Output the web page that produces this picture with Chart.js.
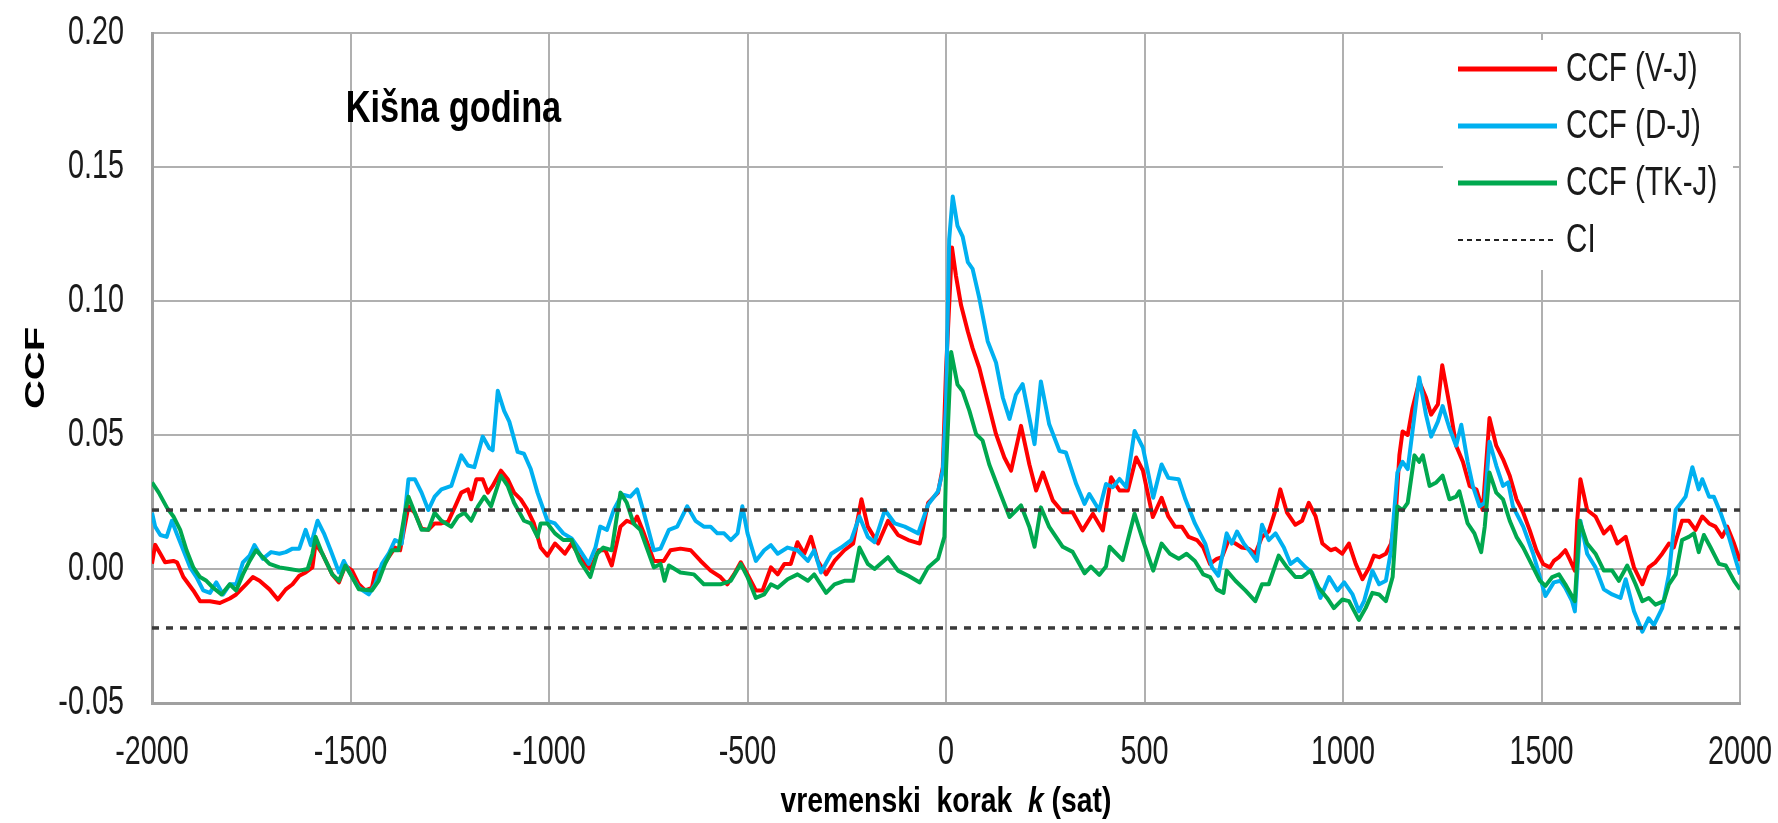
<!DOCTYPE html>
<html lang="hr">
<head>
    <meta charset="UTF-8">
    <title>CCF - Kišna godina</title>
    <script src="https://cdn.jsdelivr.net/npm/chart.js"></script>
    <style>
        html, body { margin: 0; padding: 0; background: #fff; }
        #wrap { width: 1778px; height: 823px; }
    </style>
</head>
<body>
<div id="wrap"><canvas id="ccfChart" width="1778" height="823"></canvas></div>

<script>
    // lag (sat), CCF value
    const ccfVJ = [
        [-2000,0.002],[-1992,0.009],[-1979,0.0057],[-1967,0.0025],[-1946,0.003],[-1937,0.0025],[-1921,-0.003],[-1896,-0.008],[-1879,-0.012],[-1854,-0.012],[-1829,-0.0127],[-1804,-0.011],[-1788,-0.0095],[-1763,-0.0057],[-1746,-0.003],[-1729,-0.0044],[-1704,-0.0076],[-1683,-0.0114],[-1663,-0.0076],[-1646,-0.0057],[-1629,-0.0025],[-1613,-0.0013],[-1596,0.0006],[-1588,0.0095],[-1571,0.0057],[-1546,-0.002],[-1529,-0.005],[-1513,0.0013],[-1496,-0.0006],[-1479,-0.0057],[-1463,-0.008],[-1446,-0.007],[-1438,-0.0013],[-1421,0.0006],[-1404,0.0044],[-1388,0.008],[-1375,0.007],[-1354,0.0234],[-1338,0.021],[-1321,0.015],[-1304,0.0146],[-1288,0.017],[-1271,0.017],[-1254,0.0177],[-1238,0.0228],[-1221,0.0285],[-1204,0.0297],[-1196,0.026],[-1183,0.0335],[-1167,0.0335],[-1154,0.0285],[-1142,0.031],[-1121,0.0367],[-1104,0.0335],[-1088,0.0285],[-1071,0.026],[-1054,0.022],[-1038,0.017],[-1021,0.008],[-1004,0.005],
        [-985,0.0095],[-972,0.0076],[-960,0.0057],[-943,0.0095],[-922,0.0044],[-896,0],[-875,0.007],[-858,0.007],[-842,0.0013],[-820,0.0158],[-804,0.018],[-787,0.017],[-778,0.0196],[-761,0.0133],[-736,0.003],[-711,0.003],[-694,0.007],[-669,0.0076],[-643,0.007],[-618,0.003],[-593,-0.0006],[-568,-0.003],[-551,-0.0057],[-534,-0.002],[-517,0.0025],[-500,-0.002],[-479,-0.008],[-462,-0.008],[-441,0.0006],[-424,-0.002],[-407,0.0019],[-391,0.0019],[-374,0.01],[-357,0.0057],[-340,0.012],[-323,0.003],[-302,-0.002],[-281,0.003],[-256,0.007],[-234,0.0095],[-213,0.026],[-197,0.0158],[-171,0.0095],[-146,0.018],[-121,0.0127],[-95,0.0108],[-66,0.0095],[-45,0.0247],[-20,0.0285],[-8,0.038],[0,0.074],[15,0.12],
        [25,0.1095],[38,0.0984],[55,0.0886],[67,0.0824],[84,0.075],[105,0.0626],[126,0.0503],[147,0.0416],[164,0.0367],[189,0.0534],[210,0.039],[227,0.0293],[244,0.036],[269,0.0256],[294,0.0212],[319,0.0212],[344,0.0144],[370,0.0206],[395,0.0144],[416,0.0342],[437,0.0293],[458,0.0293],[479,0.0416],[496,0.0367],[521,0.0194],[543,0.0266],[560,0.0196],[577,0.0158],[594,0.0158],[611,0.012],
        [632,0.0108],[648,0.008],[665,0.0019],[682,0.0038],[695,0.0044],[712,0.0108],[729,0.0095],[745,0.008],[762,0.0076],[779,0.0057],[796,0.012],[813,0.014],[830,0.022],[842,0.0297],[859,0.021],[880,0.0165],[897,0.018],[914,0.0247],[931,0.0196],[948,0.0095],[969,0.007],[981,0.0076],[998,0.0057],[1015,0.0095],[1032,0.0019],[1049,-0.0038],[1066,0.0006],[1078,0.005],[1091,0.0044],[1108,0.0057],[1121,0.0095],[1133,0.021],[1142,0.0424],[1150,0.0513],[1163,0.05],[1175,0.06],[1192,0.07],[1209,0.064],[1222,0.0576],[1239,0.0614],[1250,0.076],[1268,0.0614],[1285,0.046],[1302,0.04],[1319,0.031],[1336,0.0297],[1352,0.022],[1369,0.0563],[1386,0.046],[1403,0.041],[1420,0.0348],[1437,0.026],[1454,0.021],[1470,0.0146],[1487,0.007],[1504,0.0019],[1521,0.0006],
        [1531,0.003],[1544,0.0044],[1560,0.007],[1573,0.003],[1584,-0.0006],[1590,0.018],[1598,0.0335],[1615,0.022],[1636,0.0196],[1657,0.0133],[1674,0.0158],[1691,0.0095],[1712,0.012],[1733,0.0006],[1754,-0.0057],[1770,0.0006],[1787,0.0025],[1804,0.0057],[1821,0.0095],[1833,0.008],[1854,0.018],[1871,0.018],[1888,0.0146],[1905,0.0196],[1922,0.017],[1938,0.0158],[1955,0.012],[1968,0.0158],[1985,0.0095],[2000,0.003]
    ];

    const ccfDJ = [
        [-2000,0.021],[-1992,0.0158],[-1979,0.0127],[-1963,0.012],[-1950,0.018],[-1938,0.0133],[-1921,0.007],[-1904,0.0006],[-1888,-0.003],[-1871,-0.008],[-1854,-0.0089],[-1838,-0.005],[-1821,-0.0095],[-1804,-0.0057],[-1788,-0.0057],[-1771,0.0025],[-1754,0.005],[-1742,0.0089],[-1721,0.0038],[-1700,0.0063],[-1679,0.0057],[-1663,0.0063],[-1646,0.0076],[-1629,0.0076],[-1613,0.0146],[-1600,0.0089],[-1583,0.018],[-1567,0.0133],[-1550,0.007],[-1529,-0.0013],[-1517,0.003],[-1496,-0.003],[-1479,-0.007],[-1454,-0.0095],[-1438,-0.0057],[-1421,0.0019],[-1404,0.0057],[-1388,0.0108],[-1371,0.0095],[-1354,0.0335],[-1338,0.0335],[-1321,0.0285],[-1304,0.022],[-1288,0.027],[-1271,0.0297],[-1246,0.031],[-1221,0.0424],[-1204,0.0386],[-1188,0.038],[-1167,0.0494],[-1150,0.045],[-1142,0.0443],[-1129,0.0665],[-1113,0.059],[-1100,0.055],[-1079,0.0437],[-1063,0.043],[-1046,0.0373],[-1029,0.0285],[-1004,0.018],
        [-985,0.017],[-964,0.0133],[-943,0.0114],[-922,0.007],[-900,0.0019],[-883,0.008],[-871,0.0158],[-854,0.0146],[-837,0.022],[-816,0.0278],[-795,0.027],[-778,0.0297],[-761,0.021],[-736,0.007],[-719,0.0076],[-698,0.0146],[-677,0.0158],[-652,0.0234],[-631,0.018],[-610,0.0158],[-593,0.0158],[-576,0.0133],[-559,0.0133],[-542,0.0108],[-525,0.0133],[-513,0.0234],[-500,0.0133],[-479,0.003],[-458,0.007],[-441,0.0089],[-424,0.0057],[-399,0.008],[-374,0.007],[-348,0.003],[-332,0.007],[-315,-0.0013],[-289,0.0057],[-264,0.008],[-239,0.0108],[-218,0.0196],[-197,0.012],[-180,0.01],[-154,0.022],[-129,0.017],[-104,0.0158],[-70,0.0133],[-45,0.024],[-20,0.029],[-8,0.0367],[0,0.061],[8,0.123],[17,0.139],
        [29,0.128],[42,0.124],[55,0.1145],[67,0.112],[84,0.101],[105,0.085],[126,0.077],[143,0.064],[160,0.056],[176,0.065],[193,0.069],[210,0.0564],[223,0.0466],[239,0.07],[260,0.054],[286,0.044],[302,0.0435],[328,0.0317],[349,0.0243],[361,0.028],[386,0.0219],[403,0.0317],[420,0.0305],[437,0.0336],[454,0.0305],[475,0.0515],[496,0.0453],[522,0.0266],[543,0.039],[560,0.034],[586,0.0335],[603,0.026],[627,0.017],[653,0.0095],[670,0.0006],[686,-0.0025],[707,0.0133],[720,0.0095],[733,0.014],[750,0.0095],[767,0.0063],[783,0.003],[796,0.0165],[813,0.0108],[830,0.0133],[851,0.008],[868,0.0019],[885,0.0038],[906,0.0006],[922,-0.0013],[943,-0.0108],[965,-0.003],[986,-0.008],[1003,-0.005],[1024,-0.0095],[1040,-0.0158],[1053,-0.012],[1074,-0.0006],[1091,-0.0057],[1108,-0.0044],[1121,0.007],[1137,0.036],[1150,0.04],[1163,0.0373],[1175,0.0513],[1192,0.0715],[1209,0.0576],[1222,0.0494],[1239,0.055],[1251,0.0608],[1268,0.0526],[1285,0.046],[1298,0.0538],[1314,0.04],[1327,0.031],[1344,0.0234],[1357,0.0247],[1369,0.0475],[1386,0.0386],[1403,0.031],[1416,0.0323],[1428,0.0234],[1454,0.0158],[1479,0.0057],[1496,-0.003],
        [1510,-0.0101],[1531,-0.005],[1548,-0.0044],[1560,-0.007],[1577,-0.012],[1584,-0.0158],[1598,0.018],[1615,0.0057],[1636,0.0006],[1657,-0.0076],[1678,-0.0095],[1699,-0.0108],[1712,-0.0038],[1733,-0.0158],[1754,-0.0234],[1770,-0.0184],[1783,-0.0209],[1804,-0.0146],[1821,-0.002],[1838,0.022],[1863,0.027],[1880,0.038],[1896,0.0297],[1905,0.0335],[1922,0.027],[1934,0.027],[1951,0.021],[1972,0.012],[2000,-0.002]
    ];

    const ccfTKJ = [
        [-2000,0.0323],[-1983,0.0285],[-1962,0.0228],[-1946,0.0196],[-1929,0.0146],[-1913,0.007],[-1896,0.0006],[-1879,-0.003],[-1863,-0.0044],[-1846,-0.007],[-1825,-0.0095],[-1804,-0.0057],[-1788,-0.008],[-1771,-0.002],[-1754,0.003],[-1738,0.007],[-1721,0.0044],[-1704,0.0019],[-1679,0.0006],[-1654,0],[-1629,-0.0006],[-1608,0],[-1596,0.0057],[-1588,0.012],[-1571,0.0057],[-1546,-0.002],[-1529,-0.0044],[-1513,0.0013],[-1496,-0.003],[-1479,-0.0076],[-1446,-0.008],[-1429,-0.0044],[-1413,0.0019],[-1396,0.007],[-1379,0.007],[-1363,0.021],[-1354,0.027],[-1338,0.021],[-1321,0.0146],[-1304,0.0146],[-1288,0.021],[-1271,0.018],[-1246,0.0158],[-1229,0.0196],[-1213,0.021],[-1196,0.018],[-1179,0.0234],[-1163,0.027],[-1146,0.0234],[-1121,0.0348],[-1104,0.031],[-1088,0.0247],[-1063,0.018],[-1046,0.017],[-1029,0.012],[-1021,0.017],[-1004,0.017],
        [-985,0.0133],[-964,0.0108],[-943,0.0108],[-922,0.003],[-896,-0.003],[-879,0.0057],[-863,0.008],[-842,0.007],[-820,0.0285],[-804,0.0247],[-787,0.017],[-770,0.0146],[-736,0.0006],[-719,0.0019],[-709,-0.0044],[-698,0.0013],[-669,-0.0013],[-635,-0.002],[-610,-0.0057],[-584,-0.0057],[-568,-0.0057],[-542,-0.0044],[-517,0.0019],[-500,-0.003],[-479,-0.0108],[-458,-0.0095],[-441,-0.0057],[-424,-0.007],[-399,-0.0038],[-374,-0.002],[-348,-0.0044],[-332,-0.002],[-302,-0.0089],[-281,-0.0057],[-256,-0.0044],[-234,-0.0044],[-218,0.008],[-197,0.0019],[-180,0],[-146,0.0044],[-121,-0.0006],[-95,-0.0025],[-66,-0.005],[-45,0.0006],[-20,0.0038],[-4,0.012],[0,0.0367],[13,0.081],
        [29,0.0688],[42,0.0663],[59,0.059],[76,0.0503],[92,0.048],[109,0.039],[134,0.0293],[160,0.0194],[189,0.0237],[210,0.0157],[223,0.0083],[239,0.023],[260,0.0157],[294,0.0083],[319,0.0064],[349,-0.0016],[365,0.0009],[386,-0.0022],[403,0.0009],[412,0.0083],[445,0.0033],[475,0.0206],[496,0.0107],[522,-0.0006],[543,0.0095],[564,0.0057],[586,0.0038],[606,0.0057],[627,0.003],[648,-0.002],[665,-0.003],[682,-0.0076],[699,-0.0089],[707,-0.0006],[729,-0.0044],[754,-0.008],[779,-0.012],[796,-0.0057],[813,-0.0057],[838,0.005],[859,0.0006],[880,-0.003],[897,-0.003],[918,-0.0006],[939,-0.007],[960,-0.0108],[977,-0.0146],[998,-0.0114],[1015,-0.012],[1040,-0.019],[1057,-0.0146],[1074,-0.0089],[1091,-0.0095],[1108,-0.012],[1125,-0.003],[1137,0.0234],[1150,0.022],[1163,0.0247],[1180,0.0424],[1192,0.04],[1201,0.0424],[1218,0.031],[1235,0.0323],[1251,0.0348],[1268,0.026],[1285,0.027],[1293,0.029],[1314,0.017],[1331,0.0133],[1348,0.0063],[1357,0.0158],[1369,0.036],[1386,0.0285],[1403,0.026],[1420,0.018],[1437,0.012],[1454,0.008],[1479,0.0006],[1496,-0.0044],
        [1510,-0.0063],[1527,-0.003],[1544,-0.002],[1560,-0.0057],[1584,-0.012],[1596,0.018],[1615,0.0095],[1636,0.0057],[1657,-0.0006],[1678,-0.0006],[1695,-0.0044],[1716,0.0013],[1737,-0.0057],[1754,-0.012],[1770,-0.0108],[1787,-0.0133],[1808,-0.012],[1821,-0.0057],[1838,-0.002],[1854,0.0108],[1871,0.012],[1884,0.0133],[1896,0.0063],[1909,0.0127],[1926,0.008],[1947,0.0019],[1964,0.0013],[1985,-0.0044],[2000,-0.0076]
    ];

    const ciLevel = 0.022;          // granica pouzdanosti (+/-)
    const lagRange = [-2000, 2000];
    const yRange = [-0.05, 0.20];
    const seriesLabels = ['CCF (V-J)', 'CCF (D-J)', 'CCF (TK-J)', 'CI'];
    const panelTitle = 'Kišna godina';
    const yTitle = 'CCF';
    const xTitleParts = ['vremenski  korak  ', 'k', ' (sat)'];

    const FONT = "'Liberation Sans', Arial, sans-serif";
    const toXY = arr => arr.map(p => ({x: p[0], y: p[1]}));

    // the original figure is squeezed sideways, so text is drawn narrow
    function narrowText(ctx, text, x, y, font, sx, align, baseline) {
        ctx.save();
        ctx.font = font;
        ctx.textAlign = align;
        ctx.textBaseline = baseline;
        ctx.translate(x, y);
        ctx.scale(sx, 1);
        ctx.fillText(text, 0, 0);
        ctx.restore();
    }

    // tick labels of both axes
    const axisLabels = {
        id: 'axisLabels',
        afterDraw(chart) {
            const {ctx, scales} = chart;
            ctx.save();
            ctx.fillStyle = '#1a1a1a';
            scales.y.ticks.forEach(t => {
                narrowText(ctx, t.value.toFixed(2), 124, scales.y.getPixelForValue(t.value),
                    '40px ' + FONT, 0.72, 'right', 'middle');
            });
            scales.x.ticks.forEach(t => {
                narrowText(ctx, String(t.value), scales.x.getPixelForValue(t.value), 753,
                    '40px ' + FONT, 0.72, 'center', 'middle');
            });

            // y title, rotated
            ctx.save();
            ctx.translate(36, (chart.chartArea.top + chart.chartArea.bottom) / 2);
            ctx.rotate(-Math.PI / 2);
            ctx.scale(1, 0.68);
            ctx.font = 'bold 40px ' + FONT;
            ctx.textAlign = 'center';
            ctx.textBaseline = 'middle';
            ctx.fillStyle = '#000';
            ctx.fillText(yTitle, 0, 0);
            ctx.restore();

            // x title, k in italic
            const fonts = ['bold 35px ' + FONT, 'italic bold 35px ' + FONT, 'bold 35px ' + FONT];
            const sx = 0.81;
            let total = 0;
            xTitleParts.forEach((p, i) => { ctx.font = fonts[i]; total += ctx.measureText(p).width * sx; });
            let x = (chart.chartArea.left + chart.chartArea.right) / 2 - total / 2;
            ctx.fillStyle = '#000';
            xTitleParts.forEach((p, i) => {
                narrowText(ctx, p, x, 812, fonts[i], sx, 'left', 'alphabetic');
                ctx.font = fonts[i];
                x += ctx.measureText(p).width * sx;
            });

            // panel caption
            narrowText(ctx, panelTitle, scales.x.getPixelForValue(-1512), 122,
                'bold 44px ' + FONT, 0.78, 'left', 'alphabetic');
            ctx.restore();
        }
    };

    // legend inside the plot, white box
    const insideLegend = {
        id: 'insideLegend',
        afterDatasetsDraw(chart) {
            const {ctx, chartArea} = chart;
            const right = chartArea.right;
            ctx.save();
            ctx.fillStyle = '#ffffff';
            ctx.fillRect(right - 297, chartArea.top + 7, 290, 230);
            chart.data.datasets.filter(d => !d.noLegend).forEach((ds, i) => {
                const y = chartArea.top + 36 + i * 57;
                ctx.beginPath();
                ctx.strokeStyle = ds.borderDash ? '#222' : ds.borderColor;
                ctx.lineWidth = ds.borderDash ? 2 : 5;
                ctx.setLineDash(ds.borderDash ? [5, 4] : []);
                ctx.moveTo(right - 282, y);
                ctx.lineTo(right - 183, y);
                ctx.stroke();
                ctx.setLineDash([]);
                ctx.fillStyle = '#1a1a1a';
                narrowText(ctx, ds.label, right - 174, y + 1, '40px ' + FONT, 0.74, 'left', 'middle');
            });
            ctx.restore();
        }
    };

    const data = {
        datasets: [{
            label: seriesLabels[0],
            data: toXY(ccfVJ),
            borderColor: '#ff0000',
            order: 3
        }, {
            label: seriesLabels[1],
            data: toXY(ccfDJ),
            borderColor: '#00b0f0',
            order: 2
        }, {
            label: seriesLabels[2],
            data: toXY(ccfTKJ),
            borderColor: '#00a84f',
            order: 1
        }, {
            label: seriesLabels[3],
            data: [{x: lagRange[0], y: ciLevel}, {x: lagRange[1], y: ciLevel}],
            borderColor: '#3a3a3a',
            borderDash: [7, 7],
            borderWidth: 3.5,
            order: 0
        }, {
            label: 'CI-',
            noLegend: true,
            data: [{x: lagRange[0], y: -ciLevel}, {x: lagRange[1], y: -ciLevel}],
            borderColor: '#3a3a3a',
            borderDash: [7, 7],
            borderWidth: 3.5,
            order: 0
        }]
    };

    const config = {
        type: 'line',
        data: data,
        options: {
            responsive: false,
            animation: false,
            events: [],
            layout: { padding: { top: 33, right: 38, bottom: 0, left: 0 } },
            elements: {
                point: { radius: 0 },
                line: { borderWidth: 4, tension: 0, fill: false, borderJoinStyle: 'round' }
            },
            plugins: {
                legend: { display: false },
                tooltip: { enabled: false }
            },
            scales: {
                x: {
                    type: 'linear',
                    min: lagRange[0],
                    max: lagRange[1],
                    afterFit: s => { s.height = 120; },
                    grid: { color: '#b0b0b0', lineWidth: 2, drawTicks: false },
                    border: { color: '#a0a0a0', width: 3 },
                    ticks: { stepSize: 500, display: false }
                },
                y: {
                    min: yRange[0],
                    max: yRange[1],
                    afterFit: s => { s.width = 152; },
                    grid: { color: '#b0b0b0', lineWidth: 2, drawTicks: false },
                    border: { color: '#a0a0a0', width: 3 },
                    ticks: { stepSize: 0.05, display: false }
                }
            }
        },
        plugins: [insideLegend, axisLabels]
    };

    const ccfChart = new Chart(document.getElementById('ccfChart'), config);
</script>
</body>
</html>
